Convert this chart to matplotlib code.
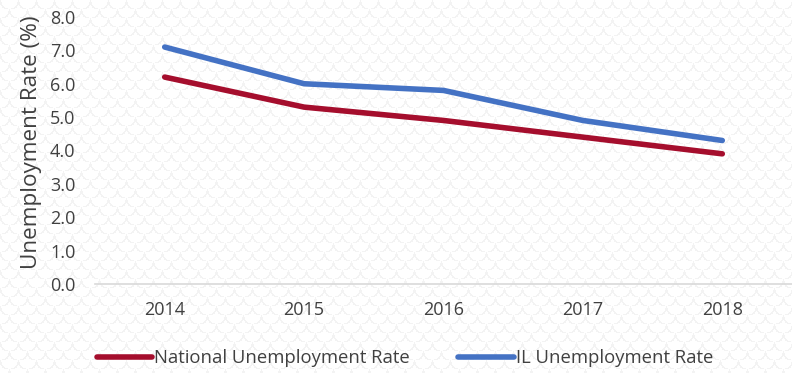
import numpy as np
import matplotlib
matplotlib.use("Agg")
import matplotlib.pyplot as plt

years = ["2014", "2015", "2016", "2017", "2018"]
national_rate = [6.2, 5.3, 4.9, 4.4, 3.9]
il_rate = [7.1, 6.0, 5.8, 4.9, 4.3]
yticks = [0.0, 1.0, 2.0, 3.0, 4.0, 5.0, 6.0, 7.0, 8.0]

W, H, DPI = 792, 373, 100
fig = plt.figure(figsize=(W / DPI, H / DPI), dpi=DPI)
fig.patch.set_facecolor("white")

# faint scale-pattern backdrop
yy, xx = np.mgrid[0:H, 0:W].astype(float)
p = 18.0
row = np.floor(yy / (p / 2))
xs = (xx + (row % 2) * p / 2) % p - p / 2
ys = yy % (p / 2)
r = np.sqrt(xs ** 2 + (ys) ** 2)
ring = np.abs(r - p / 2) < 0.9
bg = np.ones((H, W, 3))
bg[ring] = 0.955
fig.figimage(bg, xo=0, yo=0, origin="upper", zorder=0)

ax = fig.add_axes([95 / W, 1 - 284 / H, 1 - 95 / W, (284 - 17) / H])
ax.set_zorder(2)
ax.set_facecolor("none")
x = np.arange(len(years))
l1, = ax.plot(x, national_rate, color="#A50E2D", lw=4, solid_capstyle="round",
              label="National Unemployment Rate")
l2, = ax.plot(x, il_rate, color="#4472C4", lw=4, solid_capstyle="round",
              label="IL Unemployment Rate")

ax.set_xlim(-0.5, len(years) - 0.5)
ax.set_ylim(0, 8)
ax.set_xticks(x)
ax.set_xticklabels(years)
ax.set_yticks(yticks)
ax.set_yticklabels([f"{v:.1f}" for v in yticks])
for s in ["top", "right", "left"]:
    ax.spines[s].set_visible(False)
ax.spines["bottom"].set_color("#d9d9d9")
ax.spines["bottom"].set_linewidth(1.2)
ax.tick_params(axis="both", length=0, labelsize=13, labelcolor="#404040")
ax.tick_params(axis="x", pad=12)
ax.tick_params(axis="y", pad=14)
for t in ax.get_xticklabels() + ax.get_yticklabels():
    t.set_fontfamily("Open Sans")
ax.set_ylabel("Unemployment Rate (%)", fontsize=16.2, color="#404040",
              fontfamily="Open Sans")
ax.yaxis.set_label_coords(-0.076, 0.53)

leg = fig.legend(handles=[l1, l2], loc="center", bbox_to_anchor=(0.5 + 9 / W, 1 - 358 / H),
                 ncol=2, frameon=False, handlelength=3.0, handletextpad=0.12,
                 columnspacing=2.6, prop={"family": "Open Sans", "size": 13.3},
                 labelcolor="#404040")
leg.set_zorder(3)

fig.savefig("out.png", dpi=DPI)
